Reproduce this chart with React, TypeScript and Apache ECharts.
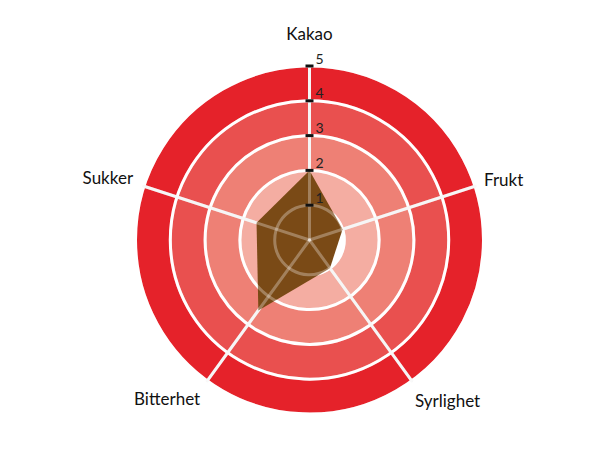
import React from 'react';
import * as echarts from 'echarts';

const indicators = ['Kakao', 'Sukker', 'Bitterhet', 'Syrlighet', 'Frukt'];
const values = [2, 1.6, 2.5, 1, 1];
const maxValue = 5;

// per-label placement tweaks (nameGap + padding), same order as indicators
const nameLayout = [
  { gap: 24, padding: [0, 0, 0, 0] },
  { gap: 11.5, padding: [0, 0, 10, 0] },
  { gap: 12, padding: [16, 0, 0, 0] },
  { gap: 5.5, padding: [30, 0, 0, 0] },
  { gap: 9.5, padding: [0, 0, 8, 0] },
];

const ringColors = ['#ffffff', '#f4ada2', '#ee8075', '#e9504f', '#e5222a'];
const polygonColor = '#7a4a16';
const font = 'Lato, "Noto Sans", sans-serif';

const center = [309.5, 240];
const radius = 174;

export default function App() {
  const chartRef = React.useRef<HTMLDivElement>(null);

  React.useEffect(() => {
    if (!chartRef.current) return;
    const chart = echarts.init(chartRef.current, null, { renderer: 'svg' });

    const baseIndicators = indicators.map((name, i) => ({
      name,
      max: maxValue,
      min: 0,
      nameGap: nameLayout[i].gap,
    }));

    const nameRich: Record<string, any> = {};
    indicators.forEach((_, i) => {
      nameRich['n' + i] = {
        color: '#111',
        fontSize: 17,
        fontFamily: font,
        padding: nameLayout[i].padding,
      };
    });

    // overlay: faint lines drawn over the polygon + ticks/labels on first axis
    const overlayIndicators = indicators.map((name, i) => ({
      name,
      max: maxValue,
      min: 0,
      axisLabel: { show: i === 0 },
    }));

    chart.setOption({
      animation: false,
      radar: [
        {
          shape: 'circle',
          center,
          radius,
          startAngle: 90,
          splitNumber: 5,
          indicator: baseIndicators,
          axisName: {
            color: '#111',
            fontSize: 17,
            fontFamily: font,
            formatter: (name: string) => `{n${indicators.indexOf(name)}|${name}}`,
            rich: nameRich,
          },
          splitArea: {
            show: true,
            areaStyle: { color: ringColors },
          },
          splitLine: {
            lineStyle: { color: '#ffffff', width: 3 },
          },
          axisLine: {
            lineStyle: { color: '#f2f2f2', width: 3 },
          },
          axisTick: { show: false },
          axisLabel: { show: false },
          z: 0,
        },
        {
          shape: 'circle',
          center,
          radius,
          startAngle: 90,
          splitNumber: 5,
          indicator: overlayIndicators,
          axisName: { show: false },
          splitArea: { show: false },
          splitLine: {
            lineStyle: { color: 'rgba(255,255,255,0.3)', width: 3 },
          },
          axisLine: {
            lineStyle: { color: 'rgba(255,255,255,0.3)', width: 3 },
          },
          axisTick: { show: false },
          axisLabel: {
            show: false,
            margin: 4,
            align: 'left',
            verticalAlign: 'middle',
            formatter: (v: number) => (v === 0 ? '' : `{t|}{n|${v}}`),
            rich: {
              t: { width: 8, height: 3, backgroundColor: '#111' },
              n: {
                fontSize: 14,
                fontFamily: font,
                color: '#222',
                padding: [0, 0, 16, 2],
              },
            },
          },
          z: 3,
        },
      ],
      series: [
        {
          type: 'radar',
          radarIndex: 0,
          symbol: 'none',
          z: 2,
          lineStyle: { width: 0 },
          areaStyle: { color: polygonColor, opacity: 1 },
          data: [{ value: values, name: 'Smak' }],
        },
      ],
    });

    return () => {
      chart.dispose();
    };
  }, []);

  return (
    <div
      ref={chartRef}
      style={{ position: 'absolute', left: 0, top: 0, width: 610, height: 450 }}
    />
  );
}
